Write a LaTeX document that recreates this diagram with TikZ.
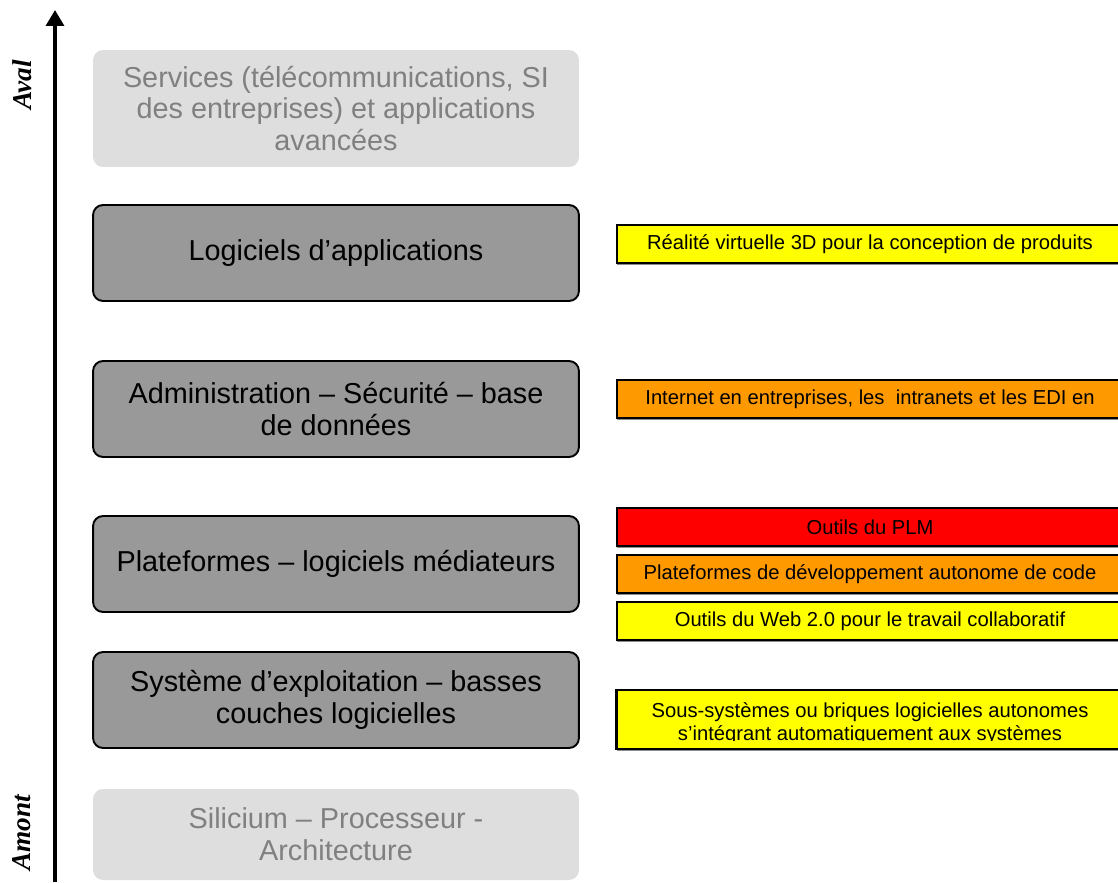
\documentclass[tikz,border=0pt]{standalone}
\usepackage{fontspec}
\setmainfont{Liberation Sans}
\newfontfamily\timesbi{Liberation Serif}
\usepackage{tikz}
\usetikzlibrary{arrows.meta, shadows, calc}

\definecolor{gris}{HTML}{999999}
\definecolor{grisclair}{HTML}{DEDEDE}
\definecolor{gristexte}{HTML}{808080}
\definecolor{jaune}{HTML}{FFFF00}
\definecolor{orangeb}{HTML}{FF9900}
\definecolor{rouge}{HTML}{FF0000}

\tikzset{
  couche/.style={draw, line width=1.1pt, fill=gris, rounded corners=0.2cm,
    minimum width=9.72cm, minimum height=1.92cm, align=center,
    font=\fontsize{16.4}{18.1}\selectfont},
  horsjeu/.style={couche, draw=none, fill=grisclair, text=gristexte},
  tendance/.style={draw, line width=1.1pt, minimum width=10.12cm,
    minimum height=0.76cm, align=center, inner sep=0pt,
    font=\fontsize{11.5}{13}\selectfont,
    drop shadow={shadow xshift=0pt, shadow yshift=-1.3pt, fill=black!45, opacity=1}},
  sens/.style={rotate=90, font=\timesbi\bfseries\itshape\fontsize{15.5}{17}\selectfont}
}

\begin{document}
\begin{tikzpicture}[x=0.02cm, y=-0.02cm, >={Triangle[width=10pt,length=9pt]}]
    \clip (0,0) rectangle (1118,882);

    % axe amont -> aval
    \coordinate (bas) at (55,882);
    \coordinate (haut) at (55,10);
    \draw [->, line width=2.2pt] (bas)--(haut);
    \node[sens] (aval) at (22,85) {Aval};
    \node[sens] (amont) at (22,833) {Amont};

    % couches de la chaine
    \node[horsjeu, minimum height=2.34cm] (services) at (336,108.5)
        {Services (télécommunications, SI\\des entreprises) et applications\\avancées};
\foreach \y/\nom/\texte in {253/logi/{Logiciels d’applications},
    409/admin/{Administration – Sécurité – base\\de données},
    564/plat/{Plateformes – logiciels médiateurs},
    700/os/{Système d’exploitation – basses\\couches logicielles}}
{
    \node[couche] (\nom) at (336,\y) {\texte};
}
    \node[horsjeu, minimum height=1.82cm] (silicium) at (336,834.5)
        {Silicium – Processeur -\\Architecture};

    % technologies
\foreach \y/\couleur/\nom/\texte in {244/jaune/r3d/{Réalité virtuelle 3D pour la conception de produits},
    399/orangeb/intranet/{Internet en entreprises, les\ \ intranets et les EDI en},
    527/rouge/plm/{Outils du PLM},
    574/orangeb/dev/{Plateformes de développement autonome de code},
    621/jaune/web/{Outils du Web 2.0 pour le travail collaboratif}}
{
    \node[tendance, fill=\couleur] (\nom) at (870,\y) {\texte};
}
    % texte trop long : coupe avant le bord du cadre
    \node[tendance, fill=jaune, minimum height=1.16cm] (sous) at (870,719.5) {};
    \begin{scope}
        \clip (sous.north west) rectangle ($(sous.south east)+(0,-9)$);
        \node[align=center, font=\fontsize{11.5}{13}\selectfont] (soustexte) at (870,724)
            {Sous-systèmes ou briques logicielles autonomes\\s’intégrant automatiquement aux systèmes};
    \end{scope}
    \draw [line width=1.1pt] (sous.north west) rectangle (sous.south east);

\end{tikzpicture}
\end{document}
